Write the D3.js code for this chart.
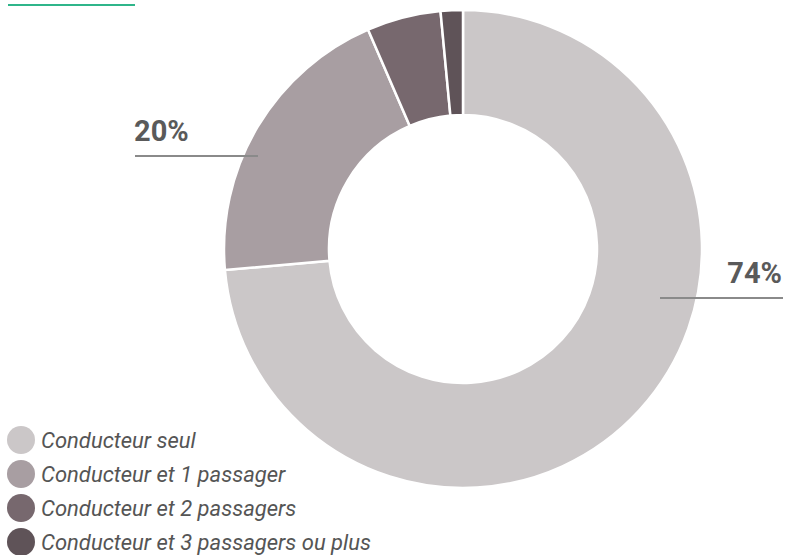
<!DOCTYPE html>
<html><head><meta charset="utf-8">
<script src="https://cdn.jsdelivr.net/npm/d3@7"></script>
<style>body{margin:0;background:#fff}svg{display:block}</style>
</head><body>
<svg id="c" width="791" height="555"></svg>
<script>
const categories = ["Conducteur seul","Conducteur et 1 passager","Conducteur et 2 passagers","Conducteur et 3 passagers ou plus"];
const values = [73.6, 19.9, 5.0, 1.5];
const colors = ["#cbc7c8","#a89ea2","#77686e","#5f5358"];
const labelTexts = ["74%","20%"];

const svg = d3.select("#c");
const cx = 463, cy = 249, R = 239, r = 134;

svg.append("line").attr("x1",8).attr("x2",135).attr("y1",5).attr("y2",5)
  .attr("stroke","#2fb58a").attr("stroke-width",2);

const pie = d3.pie().sort(null).value(d=>d);
const arcs = pie(values);
const arc = d3.arc().innerRadius(r).outerRadius(R);
const g = svg.append("g").attr("transform",`translate(${cx},${cy})`);
g.selectAll("path").data(arcs).join("path")
  .attr("d",arc).attr("fill",(d,i)=>colors[i])
  .attr("stroke","#fff").attr("stroke-width",2.5);

const lab = [
  {t:labelTexts[0], x:782, y:283, anchor:"end", lx1:660, lx2:783, ly:298},
  {t:labelTexts[1], x:134, y:141, anchor:"start", lx1:135, lx2:258, ly:156}
];
lab.forEach(l=>{
  svg.append("line").attr("x1",l.lx1).attr("x2",l.lx2).attr("y1",l.ly).attr("y2",l.ly)
    .attr("stroke","#8a8a8a").attr("stroke-width",2);
  svg.append("text").attr("x",l.x).attr("y",l.y).attr("text-anchor",l.anchor)
    .attr("font-family","Roboto").attr("font-weight","bold").attr("font-size",29)
    .attr("fill","#5a5a5a").text(l.t);
});

const leg = svg.append("g");
const y0 = 440, dy = 34;
categories.forEach((c,i)=>{
  leg.append("circle").attr("cx",21).attr("cy",y0+i*dy).attr("r",14).attr("fill",colors[i]);
  leg.append("text").attr("x",41).attr("y",y0+i*dy+7.5)
    .attr("font-family","Roboto").attr("font-style","italic").attr("font-size",22)
    .attr("fill","#555").text(c);
});
</script>
</body></html>
